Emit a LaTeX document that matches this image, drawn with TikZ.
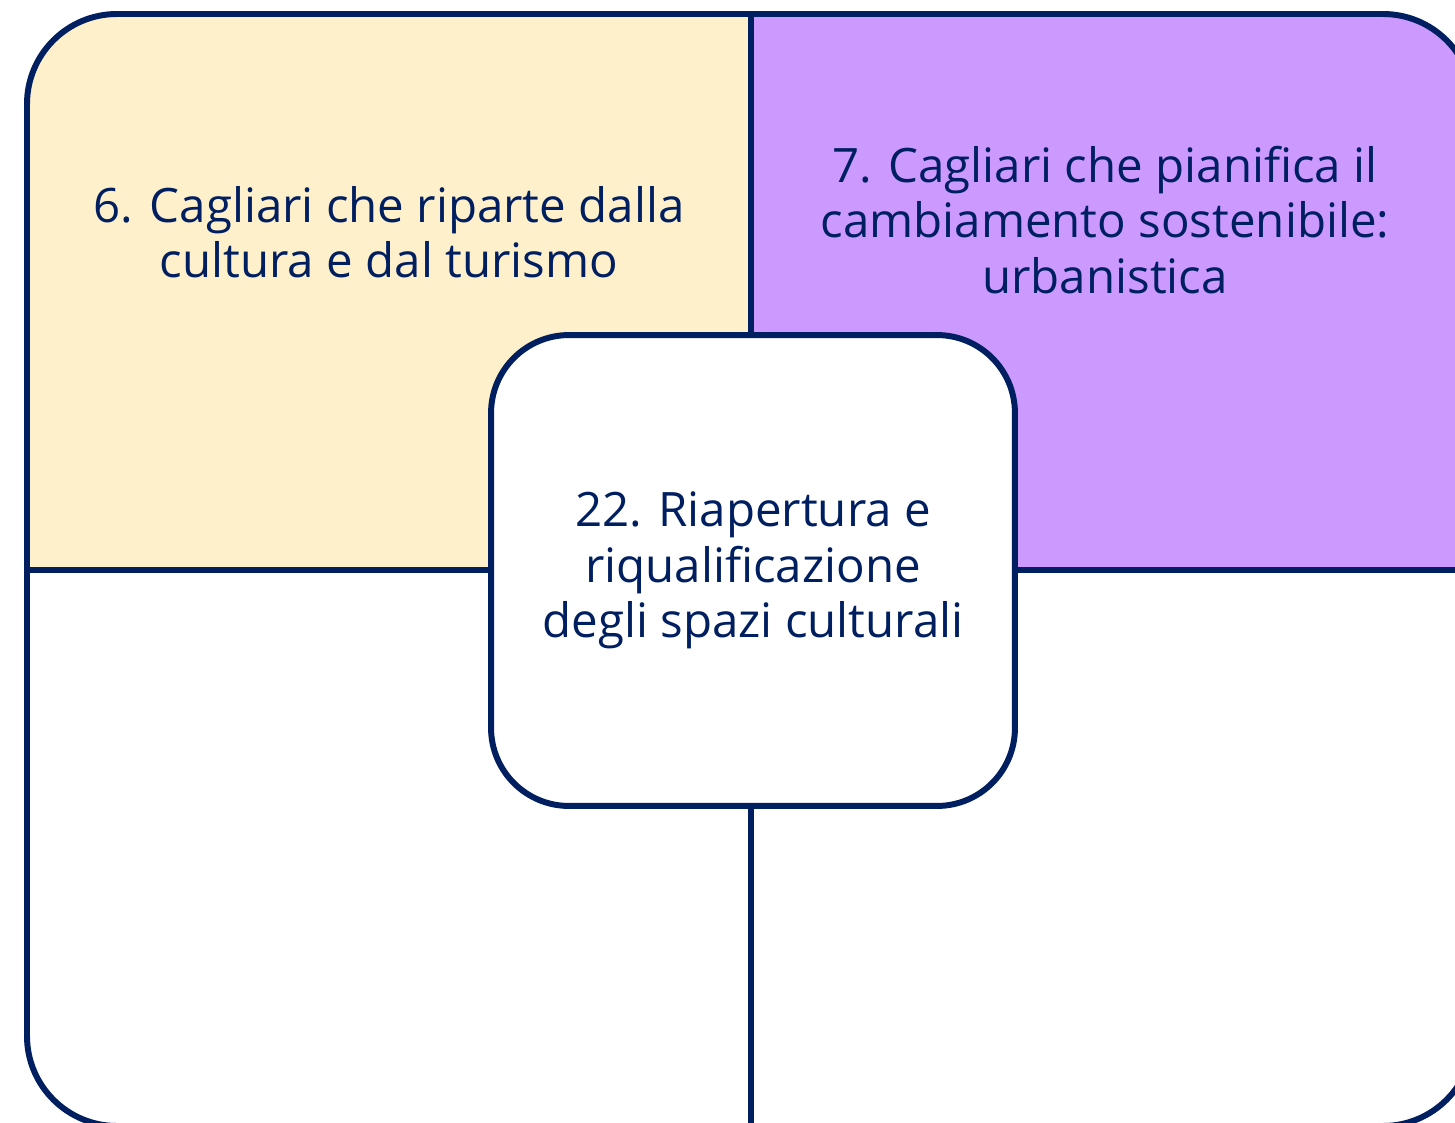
\documentclass[tikz,border=0pt]{standalone}
\usepackage{fontspec}
\setmainfont{Open Sans}
\usetikzlibrary{positioning}
\definecolor{navy}{RGB}{0,31,96}
\definecolor{cream}{RGB}{255,240,204}
\definecolor{lilac}{RGB}{204,153,255}

\begin{document}
\begin{tikzpicture}[x=0.02cm, y=-0.02cm,
  frame/.style={draw=navy, line width=3.4pt},
  quadtext/.style={text=navy, align=center, font=\fontsize{27}{31.5}\selectfont},
  hub/.style={draw=navy, line width=3.4pt, fill=white, rounded corners=1.56cm, minimum width=10.48cm, minimum height=9.42cm, inner sep=0pt, align=center, text=navy, font=\fontsize{27}{31.5}\selectfont}]

  \useasboundingbox (0,0) rectangle (1455,1123);
  \clip (0,0) rectangle (1455,1123);

  % quadrant fills
  \begin{scope}
    \clip[rounded corners=1.8cm] (27,14) rectangle (1473,1126);
    \fill[cream] (27,14) rectangle (751,570);
    \fill[lilac] (751,14) rectangle (1473,570);
  \end{scope}

  \draw[frame] (751,14) -- (751,1126);
  \draw[frame] (27,570) -- (1473,570);
  \draw[frame, rounded corners=1.8cm] (27,14) rectangle (1473,1126);

  \node[quadtext] (q6) at (389,232) {6. Cagliari che riparte dalla\\cultura e dal turismo};
  \node[quadtext] (q7) at (1105,220) {7. Cagliari che pianifica il\\cambiamento sostenibile:\\urbanistica};

  \node[hub] (hub) at (753,570.5) {22. Riapertura e\\riqualificazione\\degli spazi culturali};
\end{tikzpicture}
\end{document}
